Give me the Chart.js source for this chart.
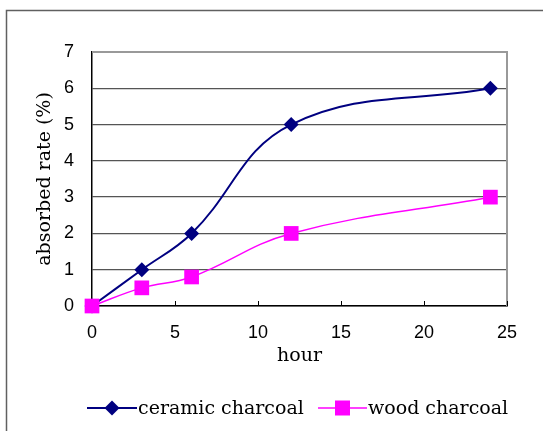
<!DOCTYPE html>
<html>
<head>
<meta charset="utf-8">
<script src="https://cdn.jsdelivr.net/npm/chart.js@4.4.1/dist/chart.umd.min.js"></script>
<style>
  html, body { margin: 0; padding: 0; background: #fff; }
  #wrap { width: 543px; height: 431px; }
</style>
</head>
<body>
<div id="wrap"><canvas id="cv" width="543" height="431"></canvas></div>
<script>
// data ----------------------------------------------------------
const hours   = [0, 3, 6, 12, 24];
const ceramic = [0, 1, 2, 5, 6];
const wood    = [0, 0.5, 0.8, 2, 3];
const seriesNames = ["ceramic charcoal", "wood charcoal"];
const xTicks = [0, 5, 10, 15, 20, 25];
const yTicks = [0, 1, 2, 3, 4, 5, 6, 7];

const NAVY = "#000080";
const PINK = "#ff00ff";
const SERIF = "'DejaVu Serif', serif";
const SANS  = "'Liberation Sans', Arial, sans-serif";

const toPoints = ys => hours.map((h, i) => ({ x: h, y: ys[i] }));

// little marker drawer, shared by the legend
function marker(ctx, style, x, y, color) {
  ctx.save();
  ctx.fillStyle = color;
  ctx.beginPath();
  if (style === "rectRot") {
    ctx.moveTo(x, y - 7.5); ctx.lineTo(x + 7.5, y);
    ctx.lineTo(x, y + 7.5); ctx.lineTo(x - 7.5, y);
    ctx.closePath();
  } else {
    ctx.rect(x - 7.5, y - 7.5, 15, 15);
  }
  ctx.fill();
  ctx.restore();
}

// outer frame, plot border, inner x tick marks and legend ---------
const frame = {
  id: "frame",
  beforeDraw(chart) {
    const ctx = chart.ctx;
    ctx.save();
    ctx.strokeStyle = "#606060";
    ctx.lineWidth = 1.5;
    ctx.strokeRect(6.5, 10.5, 700, 600);
    ctx.restore();
  },
  beforeDatasetsDraw(chart) {
    const { ctx, chartArea: a, scales: { x } } = chart;
    ctx.save();
    // top + right border of the plot
    ctx.strokeStyle = "#999";
    ctx.lineWidth = 2;
    ctx.beginPath();
    ctx.moveTo(a.left, a.top); ctx.lineTo(a.right, a.top); ctx.lineTo(a.right, a.bottom);
    ctx.stroke();
    // x tick marks pointing up into the plot
    ctx.strokeStyle = "#000";
    ctx.lineWidth = 1;
    xTicks.forEach(v => {
      const px = Math.round(x.getPixelForValue(v)) + 0.5;
      ctx.beginPath();
      ctx.moveTo(px, a.bottom); ctx.lineTo(px, a.bottom - 5);
      ctx.stroke();
    });
    ctx.restore();
  },
  afterDraw(chart) {
    const ctx = chart.ctx;
    const y = 408;
    const items = [
      { x0: 87,  x1: 137, style: "rectRot", color: NAVY, w: 2,   tx: 138 },
      { x0: 318, x1: 367, style: "rect",    color: PINK, w: 1.5, tx: 368 }
    ];
    ctx.save();
    items.forEach((it, i) => {
      ctx.strokeStyle = it.color;
      ctx.lineWidth = it.w;
      ctx.beginPath();
      ctx.moveTo(it.x0, y); ctx.lineTo(it.x1, y);
      ctx.stroke();
      marker(ctx, it.style, (it.x0 + it.x1) / 2, y, it.color);
      ctx.fillStyle = "#000";
      ctx.font = "19px " + SERIF;
      ctx.textBaseline = "middle";
      ctx.textAlign = "left";
      ctx.fillText(seriesNames[i], it.tx, y + 1);
    });
    ctx.restore();
  }
};

new Chart(document.getElementById("cv"), {
  type: "line",
  data: {
    datasets: [
      {
        label: seriesNames[0],
        data: toPoints(ceramic),
        order: 1,
        clip: false,
        borderColor: NAVY,
        backgroundColor: NAVY,
        borderWidth: 2,
        pointStyle: "rectRot",
        pointRadius: 7.5,
        pointBorderWidth: 0,
        tension: 0.4
      },
      {
        label: seriesNames[1],
        data: toPoints(wood),
        order: 0,
        clip: false,
        borderColor: PINK,
        backgroundColor: PINK,
        borderWidth: 1.5,
        pointStyle: "rect",
        pointRadius: 10.4,
        pointBorderWidth: 0,
        tension: 0.4
      }
    ]
  },
  options: {
    responsive: false,
    animation: false,
    layout: { padding: { left: 0, top: 52, right: 36, bottom: 0 } },
    plugins: { legend: { display: false }, tooltip: { enabled: false } },
    scales: {
      x: {
        type: "linear",
        min: 0, max: 25,
        afterFit: s => { s.height = 125; },
        afterBuildTicks: s => { s.ticks = xTicks.map(v => ({ value: v })); },
        ticks: { color: "#000", padding: 16, font: { family: SANS, size: 18 } },
        grid: { drawOnChartArea: false, drawTicks: false },
        border: { color: "#000", width: 1.5 },
        title: {
          display: true, text: "hour", color: "#000",
          font: { family: SERIF, size: 19 },
          padding: { bottom: 64 }
        }
      },
      y: {
        min: 0, max: 7,
        afterFit: s => { s.width = 92; },
        afterBuildTicks: s => { s.ticks = yTicks.map(v => ({ value: v })); },
        ticks: { color: "#000", padding: 18, font: { family: SANS, size: 18 } },
        grid: {
          drawTicks: false,
          color: "#555",
          lineWidth: 1.3
        },
        border: { color: "#000", width: 1.5 },
        title: {
          display: true, text: "absorbed rate (%)", color: "#000",
          font: { family: SERIF, size: 19 },
          padding: { top: 34 }
        }
      }
    }
  },
  plugins: [frame]
});
</script>
</body>
</html>
